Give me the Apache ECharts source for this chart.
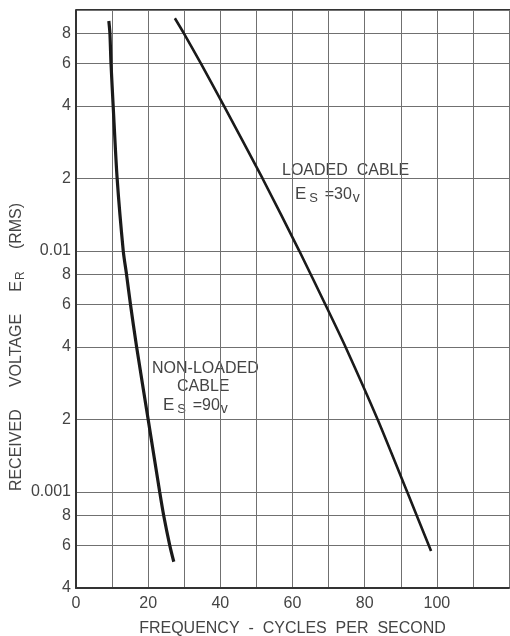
<!DOCTYPE html>
<html>
<head>
<meta charset="utf-8">
<script src="https://cdn.jsdelivr.net/npm/echarts@6/dist/echarts.min.js"></script>
<style>html,body{margin:0;padding:0;background:#fff}#c{width:510px;height:636px}</style>
</head>
<body>
<div id="c"></div>
<script>
// Frequency (c/s) vs received voltage (V rms)
const nonLoadedFreq = [9.1, 9.4, 9.7, 10.3, 11.4, 13.1, 14.0, 15.1, 16.8, 20.0, 23.2, 24.3, 26.0, 27.1];
const nonLoadedVolt = [0.090, 0.08, 0.06, 0.04, 0.02, 0.01, 0.008, 0.006, 0.004, 0.002, 0.001, 0.0008, 0.0006, 0.000514];
const loadedFreq = [27.4, 29.9, 34.6, 41.0, 51.7, 61.9, 69.1, 74.7, 83.6, 91.8, 98.4];
const loadedVolt = [0.0924, 0.08, 0.06, 0.04, 0.02, 0.01, 0.006, 0.004, 0.002, 0.001, 0.00057];
const yTickValues = [0.0004, 0.0006, 0.0008, 0.001, 0.002, 0.004, 0.006, 0.008, 0.01, 0.02, 0.04, 0.06, 0.08, 0.1];
const yTickLabels = ['4', '6', '8', '0.001', '2', '4', '6', '8', '0.01', '2', '4', '6', '8', ''];
const xTickLabels = { 0: '0', 20: '20', 40: '40', 60: '60', 80: '80', 100: '100' };

const chart = echarts.init(document.getElementById('c'), null, { renderer: 'canvas' });
const ink = '#1a1a1a';
const grey = '#444';
const gridCol = '#707070';
const font = 'Liberation Sans';

function yLabel(v) {
  for (let i = 0; i < yTickValues.length; i++) {
    if (Math.abs(v - yTickValues[i]) / yTickValues[i] < 1e-6) return yTickLabels[i];
  }
  return '';
}

const esRich = {
  e: { fontSize: 17, fontFamily: font, fill: grey },
  s: { fontSize: 13, fontFamily: font, fill: grey, padding: [8, 0, 0, 3] },
  t: { fontSize: 16, fontFamily: font, fill: grey },
  v: { fontSize: 14, fontFamily: font, fill: grey, padding: [7, 0, 0, 1] }
};

chart.setOption({
  animation: false,
  backgroundColor: '#fff',
  grid: { left: 76, right: 1, top: 10, bottom: 48, containLabel: false, outerBoundsMode: 'none' },
  xAxis: {
    type: 'value', min: 0, max: 120, interval: 10,
    axisLine: { show: true, lineStyle: { color: '#333', width: 2 } },
    axisTick: { show: false },
    axisLabel: {
      color: grey, fontFamily: font, fontSize: 16, margin: 8,
      formatter: v => (xTickLabels[v] !== undefined ? xTickLabels[v] : '')
    },
    splitLine: { show: true, lineStyle: { color: gridCol, width: 1 } },
    name: 'FREQUENCY  -  CYCLES  PER  SECOND',
    nameLocation: 'middle', nameGap: 33,
    nameTextStyle: { color: grey, fontFamily: font, fontSize: 16 }
  },
  yAxis: {
    type: 'log', logBase: 10, min: 0.0004, max: 0.1,
    axisLine: { show: true, lineStyle: { color: '#333', width: 2 } },
    axisTick: { show: false, customValues: yTickValues },
    axisLabel: {
      customValues: yTickValues,
      color: grey, fontFamily: font, fontSize: 16, margin: 5,
      formatter: v => yLabel(v)
    },
    splitLine: { show: true, lineStyle: { color: gridCol, width: 1 } },
    minorSplitLine: { show: false }
  },
  series: [
    {
      name: 'Non-loaded cable', type: 'line', showSymbol: false, smooth: 0.25,
      data: nonLoadedFreq.map((f, i) => [f, nonLoadedVolt[i]]),
      lineStyle: { color: ink, width: 3.2 }
    },
    {
      name: 'Loaded cable', type: 'line', showSymbol: false, smooth: 0.2,
      data: loadedFreq.map((f, i) => [f, loadedVolt[i]]),
      lineStyle: { color: ink, width: 2.6 }
    }
  ],
  graphic: [
    { type: 'line', shape: { x1: 76, y1: 10, x2: 510, y2: 10 }, style: { stroke: '#333', lineWidth: 2 } },
    {
      type: 'text', left: 282, top: 163,
      style: { text: 'LOADED  CABLE', fill: grey, font: '16px "Liberation Sans"' }
    },
    {
      type: 'text', left: 295, top: 186,
      style: { text: '{e|E}{s|S}  {t|=30}{v|v}', fill: grey, rich: esRich }
    },
    {
      type: 'text', left: 152, top: 361,
      style: { text: 'NON-LOADED', fill: grey, font: '16px "Liberation Sans"' }
    },
    {
      type: 'text', left: 177, top: 379,
      style: { text: 'CABLE', fill: grey, font: '16px "Liberation Sans"' }
    },
    {
      type: 'text', left: 163, top: 397,
      style: { text: '{e|E}{s|S}  {t|=90}{v|v}', fill: grey, rich: esRich }
    },
    {
      type: 'text', x: 17, y: 347, rotation: Math.PI / 2,
      style: {
        text: '{a|RECEIVED     VOLTAGE     E}{r|R}{a|     (RMS)}',
        align: 'center', verticalAlign: 'middle', fill: grey,
        rich: {
          a: { fontSize: 16, fontFamily: font, fill: grey },
          r: { fontSize: 12, fontFamily: font, fill: grey, padding: [7, 0, 0, 1] }
        }
      }
    }
  ]
});
</script>
</body>
</html>
